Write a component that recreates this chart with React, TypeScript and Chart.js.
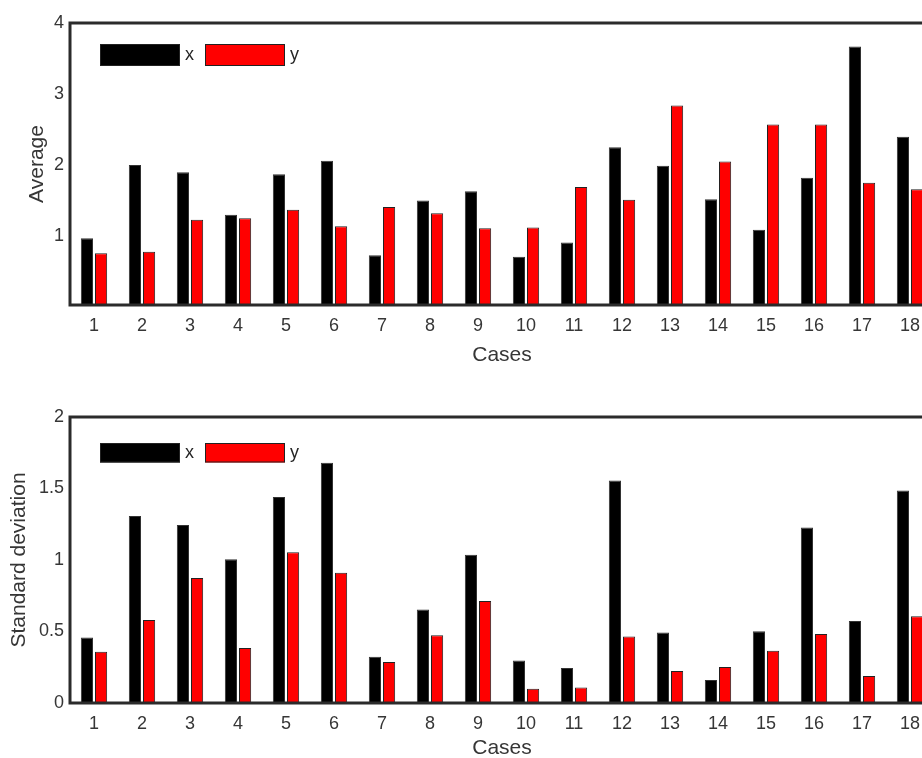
import React, { useEffect, useRef } from "react";
import { Chart, registerables } from "chart.js";

Chart.register(...registerables);

const cases = ["1", "2", "3", "4", "5", "6", "7", "8", "9", "10", "11", "12", "13", "14", "15", "16", "17", "18"];
const seriesLabels = ["x", "y"];

const avgX = [0.97, 2.0, 1.9, 1.3, 1.87, 2.06, 0.73, 1.5, 1.63, 0.71, 0.91, 2.25, 1.99, 1.52, 1.09, 1.82, 3.67, 2.4];
const avgY = [0.76, 0.78, 1.23, 1.25, 1.37, 1.14, 1.41, 1.32, 1.11, 1.12, 1.69, 1.51, 2.84, 2.05, 2.57, 2.57, 1.75, 1.66];

const sdX = [0.458, 1.307, 1.244, 1.005, 1.44, 1.68, 0.324, 0.654, 1.037, 0.298, 0.244, 1.556, 0.493, 0.16, 0.502, 1.227, 0.574, 1.486];
const sdY = [0.359, 0.581, 0.874, 0.385, 1.054, 0.91, 0.286, 0.474, 0.714, 0.1, 0.109, 0.465, 0.223, 0.251, 0.366, 0.483, 0.188, 0.607];

const avgTicks = [1, 2, 3, 4];
const sdTicks = [0, 0.5, 1, 1.5, 2];

const FONT = "'Liberation Sans', Arial, Helvetica, sans-serif";
const TEXT = "#363636";
const AXIS = "#2b2b2b";
const COLORS = ["#000000", "#ff0000"];

const boxLegendPlugin = {
  id: "boxLegend",
  afterDraw(chart: any, _args: any, opts: any) {
    const { ctx, chartArea } = chart;
    const { left, top, right, bottom } = chartArea;
    ctx.save();
    ctx.font = `18px ${FONT}`;
    ctx.textBaseline = "middle";
    let x = left + 30;
    const y = top + opts.dy;
    chart.data.datasets.forEach((ds: any) => {
      ctx.fillStyle = ds.backgroundColor;
      ctx.fillRect(x, y, 80, opts.h);
      ctx.lineWidth = 1;
      ctx.strokeStyle = "#222";
      ctx.strokeRect(x + 0.5, y + 0.5, 79, opts.h - 1);
      ctx.fillStyle = "#262626";
      ctx.fillText(ds.label, x + 85, y + opts.h / 2);
      x += 85 + ctx.measureText(ds.label).width + 11;
    });
    ctx.strokeStyle = AXIS;
    ctx.lineWidth = 3;
    ctx.strokeRect(left, top, right - left, bottom - top);
    ctx.restore();
  },
};

function buildConfig(p: {
  xs: number[];
  ys: number[];
  yMin: number;
  yMax: number;
  ticks: number[];
  yTitle: string;
  yTitlePad: number;
  xTitlePad: number;
  padTop: number;
  xHeight: number;
  legendDy: number;
  legendH: number;
}): any {
  return {
    type: "bar",
    data: {
      labels: cases,
      datasets: [
        {
          label: seriesLabels[0],
          data: p.xs,
          backgroundColor: COLORS[0],
          borderColor: "#333",
          borderWidth: 1,
          categoryPercentage: 0.59,
          barPercentage: 0.86,
        },
        {
          label: seriesLabels[1],
          data: p.ys,
          backgroundColor: COLORS[1],
          borderColor: "#222",
          borderWidth: 1,
          categoryPercentage: 0.59,
          barPercentage: 0.86,
        },
      ],
    },
    options: {
      animation: false,
      responsive: false,
      devicePixelRatio: 1,
      layout: { padding: { left: 0, right: 10, top: p.padTop, bottom: 0 } },
      plugins: {
        legend: { display: false },
        tooltip: { enabled: false },
        boxLegend: { dy: p.legendDy, h: p.legendH },
      },
      scales: {
        x: {
          type: "category",
          offset: true,
          grid: { display: false, drawTicks: false },
          border: { display: false },
          ticks: {
            color: TEXT,
            font: { family: FONT, size: 18 },
            padding: 10,
            maxRotation: 0,
            autoSkip: false,
          },
          title: {
            display: true,
            text: "Cases",
            color: TEXT,
            font: { family: FONT, size: 21 },
            padding: { top: 0, bottom: p.xTitlePad },
          },
          afterFit: (s: any) => {
            s.height = p.xHeight;
          },
        },
        y: {
          type: "linear",
          min: p.yMin,
          max: p.yMax,
          grid: { display: false, drawTicks: false },
          border: { display: false },
          ticks: {
            color: TEXT,
            font: { family: FONT, size: 18 },
            padding: 6,
            callback: (v: any) => String(v),
          },
          afterBuildTicks: (s: any) => {
            s.ticks = p.ticks.map((v) => ({ value: v }));
          },
          title: {
            display: true,
            text: p.yTitle,
            color: TEXT,
            font: { family: FONT, size: 21 },
            padding: { top: p.yTitlePad, bottom: 0 },
          },
          afterFit: (s: any) => {
            s.width = 70;
          },
        },
      },
    },
    plugins: [boxLegendPlugin],
  };
}

function BarPanel(props: { config: any; width: number; height: number; top: number }) {
  const ref = useRef<HTMLCanvasElement | null>(null);
  useEffect(() => {
    if (!ref.current) return;
    const chart = new Chart(ref.current, props.config);
    return () => chart.destroy();
  }, []);
  return (
    <div style={{ position: "absolute", left: 0, top: props.top, width: props.width, height: props.height }}>
      <canvas ref={ref} width={props.width} height={props.height} style={{ display: "block" }} />
    </div>
  );
}

export default function App() {
  const topCfg = buildConfig({
    xs: avgX,
    ys: avgY,
    yMin: 0.03,
    yMax: 4,
    ticks: avgTicks,
    yTitle: "Average",
    yTitlePad: 25,
    xTitlePad: 12,
    padTop: 23,
    xHeight: 75,
    legendDy: 21,
    legendH: 22,
  });
  const botCfg = buildConfig({
    xs: sdX,
    ys: sdY,
    yMin: 0,
    yMax: 2,
    ticks: sdTicks,
    yTitle: "Standard deviation",
    yTitlePad: 7,
    xTitlePad: 4,
    padTop: 37,
    xHeight: 62,
    legendDy: 26,
    legendH: 19.5,
  });
  return (
    <div
      style={{
        position: "absolute",
        left: 0,
        top: 0,
        width: 922,
        height: 758,
        overflow: "hidden",
        background: "#ffffff",
      }}
    >
      <BarPanel config={topCfg} width={944} height={380} top={0} />
      <BarPanel config={botCfg} width={944} height={385} top={380} />
    </div>
  );
}
